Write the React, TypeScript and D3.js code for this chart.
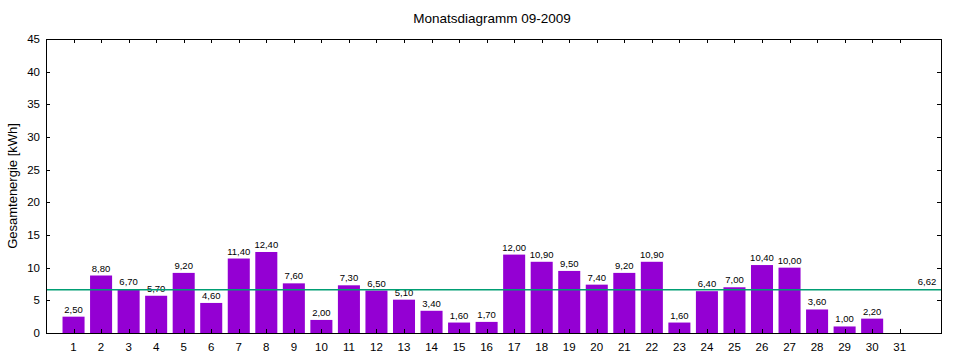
import React from "react";
import * as d3 from "d3";

const days = d3.range(1, 32);
const values: (number | null)[] = [2.5, 8.8, 6.7, 5.7, 9.2, 4.6, 11.4, 12.4, 7.6, 2.0, 7.3, 6.5, 5.1, 3.4, 1.6, 1.7, 12.0, 10.9, 9.5, 7.4, 9.2, 10.9, 1.6, 6.4, 7.0, 10.4, 10.0, 3.6, 1.0, 2.2, null];
const yTicks = [0, 5, 10, 15, 20, 25, 30, 35, 40, 45];
const title = "Monatsdiagramm 09-2009";
const yLabel = "Gesamtenergie [kWh]";

const W = 960, H = 360;
const left = 46, right = 941, top = 39, bottom = 333;
const font = "'Liberation Sans', Arial, sans-serif";

export default function App() {
  const x = d3.scaleLinear().domain([0, 32.5]).range([left, right]);
  const y = d3.scaleLinear().domain([0, 45]).range([bottom, top]);
  const present = values.filter((v): v is number => v != null);
  const avg = d3.mean(present) as number;
  const fmt = (v: number) => v.toFixed(2).replace(".", ",");
  const bw = x(0.8) - x(0);
  return (
    <svg width={W} height={H} style={{ position: "absolute", left: 0, top: 0, background: "#fff" }} fontFamily={font}>
      <rect x={0} y={0} width={W} height={H} fill="#fff" />
      <text x={492} y={23} textAnchor="middle" fontSize={13.5} fill="#000">{title}</text>
      <text transform={`translate(17,${(top + bottom) / 2}) rotate(-90)`} textAnchor="middle" fontSize={13} fill="#000">{yLabel}</text>
      {values.map((v, i) =>
        v == null ? null : (
          <g key={i}>
            <rect x={x(days[i]) - bw / 2} y={y(v)} width={bw} height={y(0) - y(v)} fill="#9400d3" />
            <text x={x(days[i])} y={y(v) - 4} textAnchor="middle" fontSize={9.5} fill="#000">{fmt(v)}</text>
          </g>
        )
      )}
      <line x1={left} x2={right} y1={y(avg)} y2={y(avg)} stroke="#009e73" strokeWidth={1.5} />
      <text x={927} y={y(avg) - 5} textAnchor="middle" fontSize={9.5} fill="#000">{fmt(avg)}</text>
      {yTicks.map((t) => (
        <g key={t}>
          <line x1={left} x2={left + 4} y1={Math.round(y(t)) + 0.5} y2={Math.round(y(t)) + 0.5} stroke="#000" />
          <line x1={right - 4} x2={right} y1={Math.round(y(t)) + 0.5} y2={Math.round(y(t)) + 0.5} stroke="#000" />
          <text x={40} y={y(t) + 4} textAnchor="end" fontSize={11.5} fill="#000">{t}</text>
        </g>
      ))}
      {days.map((d) => (
        <g key={d}>
          <line x1={Math.round(x(d)) + 0.5} x2={Math.round(x(d)) + 0.5} y1={bottom} y2={bottom - 4} stroke="#000" />
          <line x1={Math.round(x(d)) + 0.5} x2={Math.round(x(d)) + 0.5} y1={top} y2={top + 4} stroke="#000" />
          <text x={x(d)} y={351} textAnchor="middle" fontSize={11.5} fill="#000">{d}</text>
        </g>
      ))}
      <rect x={left + 0.5} y={top + 0.5} width={right - left} height={bottom - top} fill="none" stroke="#000" />
    </svg>
  );
}
